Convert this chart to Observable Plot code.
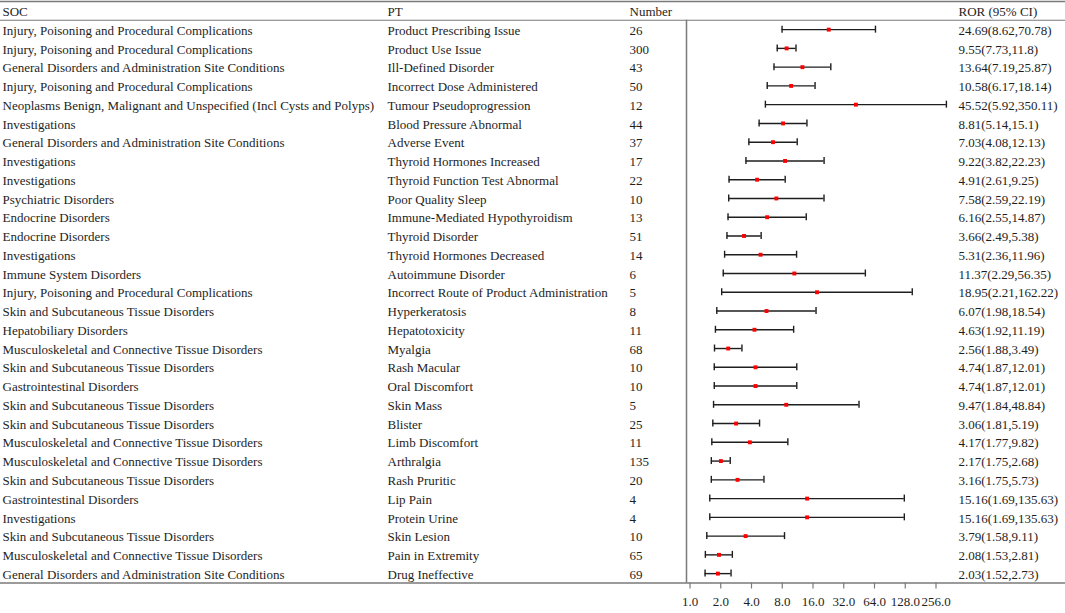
<!DOCTYPE html>
<html><head><meta charset="utf-8">
<script src="https://cdn.jsdelivr.net/npm/d3@7"></script>
<script src="https://cdn.jsdelivr.net/npm/@observablehq/plot@0.6"></script>
<style>html,body{margin:0;padding:0;background:#fff} svg{display:block}</style>
</head><body><div id="chart"></div>
<script>
const INJ = "Injury, Poisoning and Procedural Complications";
const GEN = "General Disorders and Administration Site Conditions";
const NEO = "Neoplasms Benign, Malignant and Unspecified (Incl Cysts and Polyps)";
const INV = "Investigations";
const PSY = "Psychiatric Disorders";
const END = "Endocrine Disorders";
const IMM = "Immune System Disorders";
const SKN = "Skin and Subcutaneous Tissue Disorders";
const HEP = "Hepatobiliary Disorders";
const MSK = "Musculoskeletal and Connective Tissue Disorders";
const GI = "Gastrointestinal Disorders";

const soc = [INJ, INJ, GEN, INJ, NEO, INV, GEN, INV, INV, PSY, END, END, INV, IMM, INJ,
  SKN, HEP, MSK, SKN, GI, SKN, SKN, MSK, MSK, SKN, GI, INV, SKN, MSK, GEN];
const pt = ["Product Prescribing Issue", "Product Use Issue", "Ill-Defined Disorder",
  "Incorrect Dose Administered", "Tumour Pseudoprogression", "Blood Pressure Abnormal",
  "Adverse Event", "Thyroid Hormones Increased", "Thyroid Function Test Abnormal",
  "Poor Quality Sleep", "Immune-Mediated Hypothyroidism", "Thyroid Disorder",
  "Thyroid Hormones Decreased", "Autoimmune Disorder", "Incorrect Route of Product Administration",
  "Hyperkeratosis", "Hepatotoxicity", "Myalgia", "Rash Macular", "Oral Discomfort",
  "Skin Mass", "Blister", "Limb Discomfort", "Arthralgia", "Rash Pruritic", "Lip Pain",
  "Protein Urine", "Skin Lesion", "Pain in Extremity", "Drug Ineffective"];
const number = [26, 300, 43, 50, 12, 44, 37, 17, 22, 10, 13, 51, 14, 6, 5,
  8, 11, 68, 10, 10, 5, 25, 11, 135, 20, 4, 4, 10, 65, 69];
const ror = [24.69, 9.55, 13.64, 10.58, 45.52, 8.81, 7.03, 9.22, 4.91, 7.58, 6.16, 3.66, 5.31, 11.37, 18.95,
  6.07, 4.63, 2.56, 4.74, 4.74, 9.47, 3.06, 4.17, 2.17, 3.16, 15.16, 15.16, 3.79, 2.08, 2.03];
const lower = [8.62, 7.73, 7.19, 6.17, 5.92, 5.14, 4.08, 3.82, 2.61, 2.59, 2.55, 2.49, 2.36, 2.29, 2.21,
  1.98, 1.92, 1.88, 1.87, 1.87, 1.84, 1.81, 1.77, 1.75, 1.75, 1.69, 1.69, 1.58, 1.53, 1.52];
const upper = [70.78, 11.8, 25.87, 18.14, 350.11, 15.1, 12.13, 22.23, 9.25, 22.19, 14.87, 5.38, 11.96, 56.35, 162.22,
  18.54, 11.19, 3.49, 12.01, 12.01, 48.84, 5.19, 9.82, 2.68, 5.73, 135.63, 135.63, 9.11, 2.81, 2.73];
const headers = ["SOC", "PT", "Number", "ROR (95% CI)"];
const xTicks = [1, 2, 4, 8, 16, 32, 64, 128, 256];

const rows = pt.map((p, i) => ({
  id: "r" + i, soc: soc[i], pt: p, number: String(number[i]),
  ror: ror[i], lower: lower[i], upper: upper[i],
  label: `${ror[i]}(${lower[i]},${upper[i]})`
}));

const W = 1065, H = 613, MT = 1, MB = 30.5;
const yDomain = ["header", ...rows.map(d => d.id)];
const step = (H - MT - MB) / yDomain.length;
const capLen = 7;
const ink = "#1e1e1e";
const ruleColor = "#7a7a7a";

const columns = [
  {field: "soc", dx: 2},
  {field: "pt", dx: 387},
  {field: "number", dx: 629},
  {field: "label", dx: 958}
];

const textMarks = columns.flatMap((c, j) => [
  Plot.text([headers[j]], {y: () => "header", text: d => d, frameAnchor: "left", textAnchor: "start", dx: c.dx, dy: 1, fill: ink}),
  Plot.text(rows, {y: "id", text: c.field, frameAnchor: "left", textAnchor: "start", dx: c.dx, dy: 1, fill: ink})
]);

const chart = Plot.plot({
  width: W, height: H,
  marginTop: MT, marginBottom: MB, marginLeft: 0, marginRight: 0,
  style: {fontFamily: "'Liberation Serif', 'Times New Roman', serif", fontSize: "13px", background: "#fff", color: ink},
  x: {type: "log", base: 2, domain: [1, 256], range: [686, 932], axis: null},
  y: {type: "band", domain: yDomain, padding: 0, round: false, axis: null},
  marks: [
    Plot.frame({anchor: "top", stroke: ruleColor, strokeWidth: 1.5}),
    Plot.ruleY(["header"], {dy: step / 2, stroke: ruleColor, strokeWidth: 1.2}),
    Plot.ruleX([1], {insetTop: step, stroke: ruleColor, strokeWidth: 1.5}),
    Plot.frame({anchor: "bottom", stroke: ruleColor, strokeWidth: 1.5}),
    Plot.axisX({ticks: xTicks, tickFormat: d => d.toFixed(1), tickSize: 6, tickPadding: 8,
      fontSize: 13, dx: 3.5, stroke: ruleColor, strokeWidth: 1.2, fill: ink}),
    Plot.ruleY(rows, {y: "id", x1: "lower", x2: "upper", stroke: ink, strokeWidth: 1.4}),
    Plot.tickX(rows, {y: "id", x: "lower", insetTop: (step - capLen) / 2, insetBottom: (step - capLen) / 2, stroke: ink, strokeWidth: 1.4}),
    Plot.tickX(rows, {y: "id", x: "upper", insetTop: (step - capLen) / 2, insetBottom: (step - capLen) / 2, stroke: ink, strokeWidth: 1.4}),
    Plot.dot(rows, {y: "id", x: "ror", symbol: "square", r: 2.2, fill: "red", stroke: "none"}),
    ...textMarks
  ]
});
document.getElementById("chart").append(chart);
</script>
</body></html>
